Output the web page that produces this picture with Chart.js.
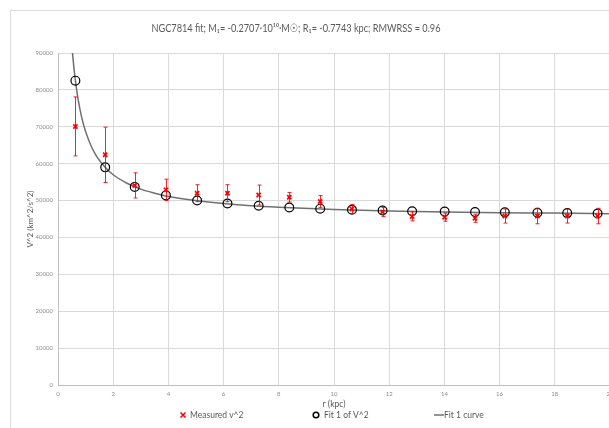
<!DOCTYPE html>
<html>
<head>
<meta charset="utf-8">
<script src="https://cdn.jsdelivr.net/npm/chart.js@4/dist/chart.umd.min.js"></script>
<style>
  html, body { margin: 0; padding: 0; background: #ffffff; overflow: hidden; width: 609px; height: 428px; }
  #frame { position: absolute; left: 10px; top: 10px; width: 700px; height: 500px; border: 1px solid #d9d9d9; box-sizing: border-box; }
  #c { position: absolute; left: 0; top: 0; }
</style>
</head>
<body>
<div id="frame"></div>
<canvas id="c" width="640" height="440" style="width:640px;height:440px"></canvas>
<script>
// ---- data ----
const chartTitle = "NGC7814 fit; M\u2081= -0.2707\u00b710\u00b9\u2070\u00b7M\u2609; R\u2081= -0.7743 kpc; RMWRSS = 0.96";
const xAxisTitle = "r (kpc)";
const yAxisTitle = "V^2 (km^2/s^2)";
const seriesNames = ["Measured v^2", "Fit 1 of V^2", "Fit 1 curve"];

const rKpc = [0.63, 1.71, 2.78, 3.91, 5.04, 6.14, 7.27, 8.38, 9.50, 10.65, 11.76, 12.83, 14.01, 15.11, 16.19, 17.37, 18.45, 19.55];
const measuredV2 = [70100, 62400, 54100, 52900, 52000, 52000, 51500, 50900, 49750, 47700, 46900, 45700, 45500, 45200, 45800, 45800, 45800, 45800];
const measuredErr = [8000, 7500, 3400, 2900, 2300, 2300, 2700, 1300, 1600, 1200, 1200, 1200, 1100, 1100, 1900, 2100, 1900, 2100];
const fitV2 = [82500, 59000, 53700, 51400, 50000, 49200, 48600, 48100, 47800, 47500, 47300, 47100, 47000, 46900, 46800, 46700, 46600, 46500];

const curveR  = [0.5, 0.55, 0.6, 0.7, 0.8, 0.9, 1.0, 1.2, 1.4, 1.7, 2.0, 2.5, 3.0, 3.5, 4.0, 5.0, 6.0, 7.0, 8.0, 10, 12, 14, 16, 18, 20];
const curveV2 = [92200, 88000, 84400, 78800, 74600, 71300, 68700, 64800, 62000, 59100, 57000, 54700, 53100, 52000, 51100, 50000, 49200, 48600, 48200, 47600, 47200, 46900, 46700, 46600, 46450];

const xTicks = [0, 2, 4, 6, 8, 10, 12, 14, 16, 18, 20];
const yTicks = [0, 10000, 20000, 30000, 40000, 50000, 60000, 70000, 80000, 90000];

// ---- styles ----
const FONT = "Lato, 'Open Sans', 'DejaVu Sans', sans-serif";
const TXT = '#595959';
const RED = '#ff0000';
const CURVE = '#707070';
const TITLE_SIZE = 11.5;
const TITLE_WIDTH = 289;

const customTitle = {
  id: 'customTitle',
  afterDraw(chart) {
    const ctx = chart.ctx;
    ctx.save();
    ctx.font = TITLE_SIZE + 'px ' + FONT;
    const w = ctx.measureText(chartTitle).width;
    const sx = Math.min(1, TITLE_WIDTH / w);
    ctx.fillStyle = TXT;
    ctx.textAlign = 'center';
    ctx.textBaseline = 'middle';
    ctx.translate(296, 28);
    ctx.scale(sx, 1);
    ctx.fillText(chartTitle, 0, 0);
    ctx.restore();
  }
};

const errorBars = {
  id: 'errorBars',
  afterDatasetsDraw(chart) {
    const {ctx, chartArea} = chart;
    const xs = chart.scales.x, ys = chart.scales.y;
    ctx.save();
    ctx.beginPath();
    ctx.rect(chartArea.left, chartArea.top, chartArea.right - chartArea.left, chartArea.bottom - chartArea.top);
    ctx.clip();
    ctx.strokeStyle = 'rgba(240,0,0,0.85)';
    ctx.lineWidth = 1;
    for (let i = 0; i < rKpc.length; i++) {
      const px = Math.round(xs.getPixelForValue(rKpc[i])) + 0.5;
      const yTop = ys.getPixelForValue(measuredV2[i] + measuredErr[i]);
      const yBot = ys.getPixelForValue(measuredV2[i] - measuredErr[i]);
      ctx.beginPath();
      ctx.moveTo(px, yTop); ctx.lineTo(px, yBot);
      ctx.moveTo(px - 2, yTop); ctx.lineTo(px + 2, yTop);
      ctx.moveTo(px - 2, yBot); ctx.lineTo(px + 2, yBot);
      ctx.stroke();
    }
    ctx.restore();
  }
};

const customLegend = {
  id: 'customLegend',
  afterDraw(chart) {
    const ctx = chart.ctx;
    const y = 415;
    ctx.save();
    ctx.font = "8.5px " + FONT;
    ctx.fillStyle = TXT;
    ctx.textBaseline = 'middle';
    ctx.textAlign = 'left';
    // Measured: red x
    ctx.strokeStyle = RED; ctx.lineWidth = 1.6;
    ctx.beginPath();
    ctx.moveTo(180.5, y - 2.5); ctx.lineTo(185.5, y + 2.5);
    ctx.moveTo(185.5, y - 2.5); ctx.lineTo(180.5, y + 2.5);
    ctx.stroke();
    ctx.fillText(seriesNames[0], 190, y);
    // Fit points: circle
    ctx.strokeStyle = '#000000'; ctx.lineWidth = 1.5;
    ctx.beginPath(); ctx.arc(316, y, 2.8, 0, Math.PI * 2); ctx.stroke();
    ctx.fillText(seriesNames[1], 324, y);
    // Curve: line
    ctx.strokeStyle = CURVE; ctx.lineWidth = 1.5;
    ctx.beginPath(); ctx.moveTo(434, y); ctx.lineTo(444, y); ctx.stroke();
    ctx.fillText(seriesNames[2], 444, y);
    ctx.restore();
  }
};

new Chart(document.getElementById('c'), {
  type: 'scatter',
  data: {
    datasets: [
      {
        label: seriesNames[0],
        data: rKpc.map((r, i) => ({x: r, y: measuredV2[i]})),
        pointStyle: 'crossRot',
        pointRadius: 3,
        pointBorderWidth: 1.7,
        borderColor: RED,
        backgroundColor: RED,
        order: 0
      },
      {
        label: seriesNames[1],
        data: rKpc.map((r, i) => ({x: r, y: fitV2[i]})),
        pointStyle: 'circle',
        pointRadius: 4.4,
        pointBorderWidth: 1.2,
        borderColor: '#000000',
        backgroundColor: 'rgba(0,0,0,0)',
        order: 1
      },
      {
        label: seriesNames[2],
        data: curveR.map((r, i) => ({x: r, y: curveV2[i]})),
        showLine: true,
        pointRadius: 0,
        borderColor: CURVE,
        borderWidth: 1.5,
        cubicInterpolationMode: 'monotone',
        order: 2
      }
    ]
  },
  options: {
    responsive: false,
    animation: false,
    devicePixelRatio: 1,
    layout: { padding: { left: 22, right: 30, top: 53, bottom: 29 } },
    plugins: {
      legend: { display: false },
      tooltip: { enabled: false },
      title: { display: false }
    },
    scales: {
      x: {
        type: 'linear',
        min: 0, max: 20,
        afterBuildTicks: s => { s.ticks = xTicks.map(v => ({value: v})); },
        afterFit: s => { s.height = 26; },
        grid: { color: '#d9d9d9', drawTicks: false, lineWidth: 1 },
        border: { color: '#bfbfbf', width: 1 },
        ticks: { color: '#8c8c8c', font: { family: FONT, size: 6 }, padding: 5, maxRotation: 0, callback: v => String(v) },
        title: { display: true, text: xAxisTitle, color: TXT, font: { family: FONT, size: 8.5 }, padding: { top: 2, bottom: 2 } }
      },
      y: {
        type: 'linear',
        min: 0, max: 90000,
        afterBuildTicks: s => { s.ticks = yTicks.map(v => ({value: v})); },
        afterFit: s => { s.width = 36; },
        grid: { color: '#d9d9d9', drawTicks: false, lineWidth: 1 },
        border: { color: '#bfbfbf', width: 1 },
        ticks: { color: '#8c8c8c', font: { family: FONT, size: 6 }, padding: 5, callback: v => String(v) },
        title: { display: true, text: yAxisTitle, color: TXT, font: { family: FONT, size: 8 }, padding: { top: 4, bottom: 2 } }
      }
    }
  },
  plugins: [errorBars, customLegend, customTitle]
});
</script>
</body>
</html>
